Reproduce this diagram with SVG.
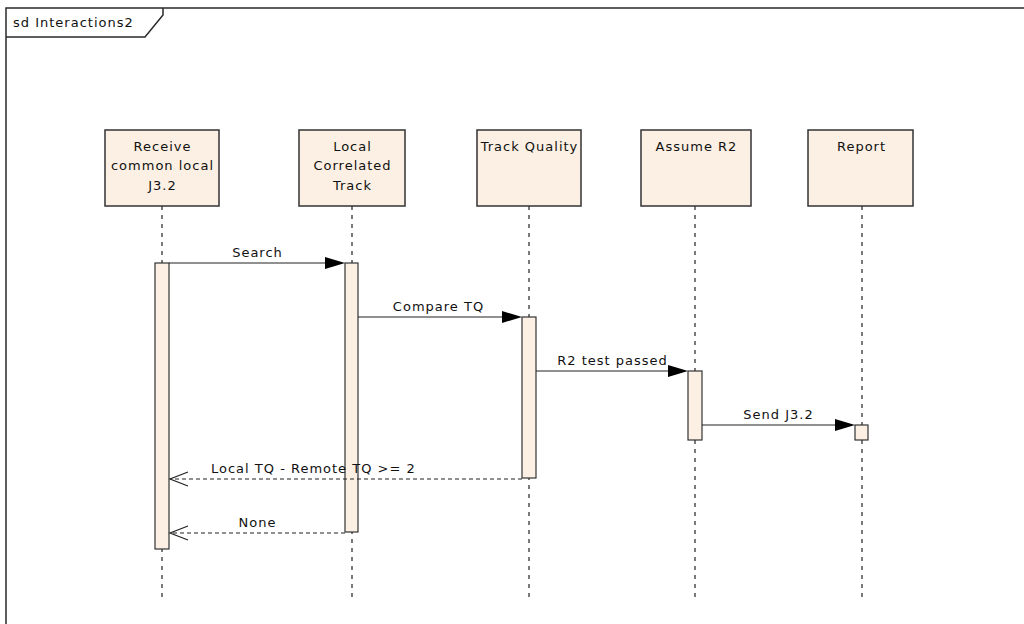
<svg xmlns="http://www.w3.org/2000/svg" width="1024" height="624" viewBox="0 0 1024 624">
<style>
.frame{fill:none;stroke:#2a2a2a;stroke-width:1.5}
.box{fill:#fbf0e3;stroke:#333;stroke-width:1.5}
.act{fill:#fbf0e3;stroke:#333;stroke-width:1.2}
.life{stroke:#333;stroke-width:1.3;stroke-dasharray:4 5;fill:none}
.msg{stroke:#222;stroke-width:1.2;fill:none}
.ret{stroke:#222;stroke-width:1.2;fill:none;stroke-dasharray:4 3}
.head{fill:#000}
.open{fill:none;stroke:#222;stroke-width:1.2}
text{font-family:"DejaVu Sans",Verdana,sans-serif;font-size:13px;letter-spacing:1px;fill:#111}
.c{text-anchor:middle}
</style>
<rect width="1024" height="624" fill="#fff"/>
<g id="frame">
<path class="frame" d="M6,624 V8 H1024"/>
<path class="frame" d="M6,37 H145 L163,15 V8"/>
<text x="13" y="27">sd Interactions2</text>
</g>
<g id="lifelines">
<line class="life" x1="162" y1="206" x2="162" y2="600"/>
<line class="life" x1="352" y1="206" x2="352" y2="600"/>
<line class="life" x1="529" y1="206" x2="529" y2="600"/>
<line class="life" x1="695" y1="206" x2="695" y2="600"/>
<line class="life" x1="862" y1="206" x2="862" y2="600"/>
</g>
<g id="node-receive">
<rect class="box" x="105" y="130" width="114" height="76"/>
<text class="c" x="162.5" y="151">Receive</text>
<text class="c" x="162.5" y="170">common local</text>
<text class="c" x="162.5" y="190">J3.2</text>
</g>
<g id="node-local">
<rect class="box" x="299" y="130" width="106" height="76"/>
<text class="c" x="352.5" y="151">Local</text>
<text class="c" x="352.5" y="170">Correlated</text>
<text class="c" x="352.5" y="190">Track</text>
</g>
<g id="node-tq">
<rect class="box" x="477" y="130" width="104" height="76"/>
<text class="c" x="529.5" y="151">Track Quality</text>
</g>
<g id="node-assume">
<rect class="box" x="641" y="130" width="110" height="76"/>
<text class="c" x="696.5" y="151">Assume R2</text>
</g>
<g id="node-report">
<rect class="box" x="808" y="130" width="105" height="76"/>
<text class="c" x="861.5" y="151">Report</text>
</g>
<g id="activations">
<rect class="act" x="155" y="263" width="14" height="286"/>
<rect class="act" x="345" y="263" width="13" height="269"/>
<rect class="act" x="522" y="317" width="14" height="161"/>
<rect class="act" x="688" y="371" width="14" height="69"/>
<rect class="act" x="855" y="425" width="13" height="15"/>
</g>
<g id="connectors">
<line class="msg" x1="169" y1="263" x2="326" y2="263"/>
<polygon class="head" points="325,257 345,263 325,269"/>
<text class="c" x="257.5" y="257">Search</text>
<line class="msg" x1="358" y1="317" x2="503" y2="317"/>
<polygon class="head" points="502,311 522,317 502,323"/>
<text class="c" x="438.5" y="311">Compare TQ</text>
<line class="msg" x1="536" y1="371" x2="669" y2="371"/>
<polygon class="head" points="668,365 688,371 668,377"/>
<text class="c" x="612.5" y="365">R2 test passed</text>
<line class="msg" x1="702" y1="425" x2="836" y2="425"/>
<polygon class="head" points="835,419 855,425 835,431"/>
<text class="c" x="778.5" y="419">Send J3.2</text>
<line class="ret" x1="522" y1="479" x2="170" y2="479"/>
<polyline class="open" points="188,472 170,479 188,486"/>
<text x="211" y="473">Local TQ - Remote TQ &gt;= 2</text>
<line class="ret" x1="345" y1="533" x2="170" y2="533"/>
<polyline class="open" points="188,526 170,533 188,540"/>
<text class="c" x="257.5" y="527">None</text>
</g>
</svg>
